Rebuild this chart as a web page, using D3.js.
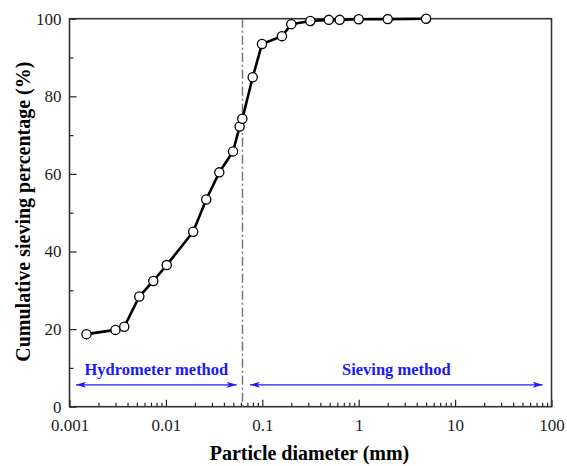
<!DOCTYPE html>
<html>
<head>
<meta charset="utf-8">
<script src="https://cdn.jsdelivr.net/npm/d3@7"></script>
</head>
<body style="margin:0;background:#fff">
<svg id="chart" width="567" height="466" style="font-family:'Liberation Serif'"></svg>
<script>
// data
const diameter = [0.0015, 0.003, 0.0037, 0.0053, 0.0074, 0.0102, 0.0192, 0.0262, 0.0358, 0.0497,
  0.0582, 0.0621, 0.0795, 0.0993, 0.16, 0.2, 0.315, 0.49, 0.635, 1.0, 2.0, 5.0];
const passing = [18.7, 19.8, 20.6, 28.4, 32.4, 36.5, 45.1, 53.4, 60.4, 65.8,
  72.2, 74.2, 84.9, 93.5, 95.5, 98.6, 99.4, 99.7, 99.7, 99.85, 99.9, 100];
const xTicks = [0.001, 0.01, 0.1, 1, 10, 100];
const xTickLabels = ["0.001", "0.01", "0.1", "1", "10", "100"];
const yTicks = [0, 20, 40, 60, 80, 100];
const boundary = 0.0623; // dash-dot split between the two methods
const methods = ["Hydrometer method", "Sieving method"];
const methodSpans = [[0.00117, 0.0542], [0.0745, 81]];

const FONT = "'Liberation Serif'";
const svg = d3.select("#chart");
const margin = { left: 69.5, top: 18.7, right: 15.5, bottom: 59.3 };
const width = 567 - margin.left - margin.right;
const height = 466 - margin.top - margin.bottom;

const g = svg.append("g").attr("transform", `translate(${margin.left},${margin.top})`);

const x = d3.scaleLog().domain([0.001, 100]).range([0, width]);
const y = d3.scaleLinear().domain([0, 100]).range([height, 0]);

// minor ticks (log 2..9, y odd tens)
const xMinor = [];
for (let e = -3; e < 2; e++) for (let m = 2; m <= 9; m++) xMinor.push(m * Math.pow(10, e));

g.append("g")
  .attr("transform", `translate(0,${height})`)
  .call(d3.axisBottom(x).tickValues(xMinor).tickSize(-4).tickFormat(""))
  .call(a => a.select(".domain").remove())
  .selectAll("line").attr("stroke", "#222").attr("stroke-width", 1.2);

const bottomAxis = d3.axisBottom(x)
  .tickValues(xTicks)
  .tickSizeInner(-7)
  .tickSizeOuter(0)
  .tickPadding(12)
  .tickFormat((d, i) => xTickLabels[i]);
g.append("g")
  .attr("class", "bottom axis")
  .attr("transform", `translate(0,${height})`)
  .call(bottomAxis)
  .attr("font-family", null)
  .call(a => a.select(".domain").remove())
  .call(a => a.selectAll("line").attr("stroke", "#222").attr("stroke-width", 1.2))
  .selectAll("text")
  .style("font-family", FONT)
  .style("font-size", "17px")
  .attr("fill", "#222");

g.append("g")
  .call(d3.axisLeft(y).tickValues([10, 30, 50, 70, 90]).tickSize(-4).tickFormat(""))
  .call(a => a.select(".domain").remove())
  .selectAll("line").attr("stroke", "#222").attr("stroke-width", 1.2);

const leftAxis = d3.axisLeft(y)
  .tickValues(yTicks)
  .tickSizeInner(-7)
  .tickSizeOuter(0)
  .tickPadding(8);
g.append("g")
  .attr("class", "left axis")
  .call(leftAxis)
  .attr("font-family", null)
  .call(a => a.select(".domain").remove())
  .call(a => a.selectAll("line").attr("stroke", "#222").attr("stroke-width", 1.2))
  .selectAll("text")
  .style("font-family", FONT)
  .style("font-size", "17px")
  .attr("fill", "#222");

// frame
g.append("rect")
  .attr("width", width)
  .attr("height", height)
  .attr("fill", "none")
  .attr("stroke", "#333")
  .attr("stroke-width", 1.6);

// boundary line
g.append("line")
  .attr("x1", x(boundary)).attr("x2", x(boundary))
  .attr("y1", 0).attr("y2", height)
  .attr("stroke", "#777")
  .attr("stroke-width", 1.5)
  .attr("stroke-dasharray", "9,3,2,3");

// method arrows
const defs = svg.append("defs");
defs.append("marker")
  .attr("id", "arrow")
  .attr("viewBox", "0 0 10 6")
  .attr("refX", 10).attr("refY", 3)
  .attr("markerWidth", 10).attr("markerHeight", 6)
  .attr("markerUnits", "userSpaceOnUse")
  .attr("orient", "auto-start-reverse")
  .append("path").attr("d", "M0,0L10,3L0,6L2.5,3Z").attr("fill", "#1a1aff");

const arrowY = y(5.65);
methodSpans.forEach((s, i) => {
  g.append("line")
    .attr("x1", x(s[0])).attr("x2", x(s[1]))
    .attr("y1", arrowY).attr("y2", arrowY)
    .attr("stroke", "#1a1aff")
    .attr("stroke-width", 1.2)
    .attr("marker-start", "url(#arrow)")
    .attr("marker-end", "url(#arrow)");
  g.append("text")
    .attr("x", (x(s[0]) + x(s[1])) / 2)
    .attr("y", arrowY - 10)
    .attr("text-anchor", "middle")
    .style("font-family", FONT)
    .style("font-size", "16.5px")
    .style("font-weight", "bold")
    .attr("fill", "#1a1aff")
    .text(methods[i]);
});

// curve
const pts = diameter.map((d, i) => [d, passing[i]]);
g.append("path")
  .datum(pts)
  .attr("fill", "none")
  .attr("stroke", "#000")
  .attr("stroke-width", 2.6)
  .attr("d", d3.line().x(d => x(d[0])).y(d => y(d[1])));

g.selectAll("circle")
  .data(pts)
  .join("circle")
  .attr("cx", d => x(d[0]))
  .attr("cy", d => y(d[1]))
  .attr("r", 4.6)
  .attr("fill", "#fff")
  .attr("stroke", "#000")
  .attr("stroke-width", 1.3);

// x axis-label
g.append("text")
  .attr("x", width / 2 - 1)
  .attr("y", height + 53)
  .attr("text-anchor", "middle")
  .style("font-family", FONT)
  .style("font-size", "20px")
  .style("font-weight", "bold")
  .text("Particle diameter (mm)");

// y axis-label
g.append("text")
  .attr("transform", "rotate(-90)")
  .attr("x", -193)
  .attr("y", -40)
  .attr("text-anchor", "middle")
  .style("font-family", FONT)
  .style("font-size", "20px")
  .style("font-weight", "bold")
  .text("Cumulative sieving percentage (%)");
</script>
</body>
</html>
